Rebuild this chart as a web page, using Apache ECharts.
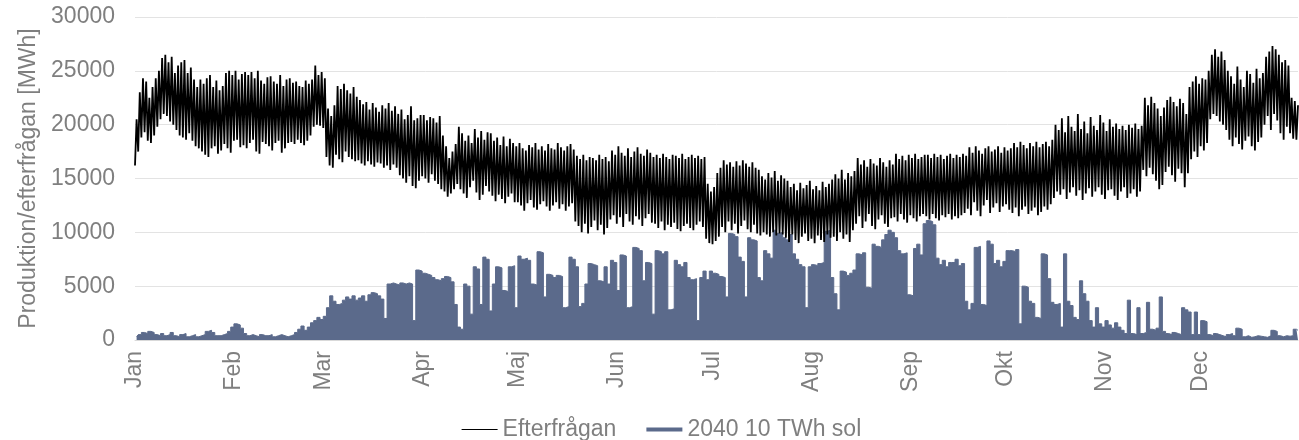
<!DOCTYPE html>
<html><head><meta charset="utf-8">
<script src="https://cdn.jsdelivr.net/npm/echarts@6/dist/echarts.min.js"></script>
<style>html,body{margin:0;padding:0;background:#fff}#c{width:1299px;height:440px}</style>
</head><body><div id="c"></div>
<script>
const monthLabels = ['Jan','Feb','Mar','Apr','Maj','Jun','Jul','Aug','Sep','Okt','Nov','Dec'];
const monthStartDay = [0,31,59,90,120,151,181,212,243,273,304,334];
const seriesNames = ['Efterfrågan','2040 10 TWh sol'];
const yAxisTitle = 'Produktion/efterfrågan [MWh]';

// Demand: daily night low and daytime high (MWh)
const demandLow = [
16200,17500,18800,19300,18500,18300,19000,
19800,20500,21000,20800,20300,20000,19500,
19000,18800,18600,19200,18500,18000,17800,
17500,17200,17000,17800,18000,17300,17600,
18200,17800,17400,18500,18600,17900,18100,
17800,18300,18600,17500,17300,18400,18200,
18000,17600,18300,18500,17400,17800,18300,
18400,18200,18600,18300,18100,18500,19000,
19800,20000,19900,19700,
17000,16200,16000,
17200,16800,16500,17500,17000,16800,16600,
16700,16400,16200,16600,16300,16100,16500,
16400,16000,16200,15800,16300,16000,
15300,15000,14600,15200,14300,14100,14800,
15200,15000,14600,15400,14800,14500,14000,
13800,13300,13600,14000,
14500,14000,13600,13200,14200,14800,13700,13000,13500,14300,
13800,13400,12900,13500,13100,12700,13300,13600,12800,
12800,12500,12000,12700,13000,12300,12100,12600,12900,12400,12000,12500,12800,12200,12600,12000,12400,12700,
11000,10600,10000,10800,9900,10500,11100,10200,10700,9800,10400,
11200,11600,10800,11400,10500,11700,11000,10700,11500,11200,10600,11300,11700,10900,
10800,10400,11000,10200,10700,10500,10900,10300,10100,10600,10800,10400,10200,10700,11000,10500,
9400,9000,8900,9200,9600,
10500,10000,11000,10200,10800,9900,10600,11100,10300,10000,10700,
9900,9700,10000,9800,9600,10000,9700,9900,9800,
9500,9100,9800,9300,9000,9600,9900,9200,9400,9000,9700,9300,9100,9800,9500,
9600,9200,10000,9400,9800,9100,10200,
10800,11500,10400,11000,11700,10600,10300,11200,11600,10800,10500,11300,
11400,11000,11700,11200,10900,11600,11300,11000,11500,11700,
11500,11200,11700,11300,11100,11600,11400,11700,11200,11500,11300,11600,11800,
12200,11600,12800,12000,11500,12500,13000,11800,12300,12700,11900,12400,12600,12100,
11800,12300,11500,12100,12400,11700,12000,12300,11600,11900,12400,12100,12600,
13200,13800,13500,14000,13100,13700,14200,13400,13900,13000,13600,14100,13300,13800,14200,13500,13100,13900,14000,
13400,13000,13800,14200,13200,13600,14000,13300,13800,
15800,15200,16000,15400,14800,14000,14400,15600,16100,15300,14700,15900,15500,14200,
15500,16800,17500,17000,18000,17600,18300,
20500,21000,20800,20300,20000,19500,
18600,18000,18800,18200,17700,18500,18900,18000,17600,18400,18800,
20000,20800,19500,21000,20400,19200,18600,19800,
19200,18700,18600
];
const demandHigh = [
20500,23000,24300,24000,22500,23500,24300,
25000,26200,26500,25800,26300,24800,25500,
25800,26000,24800,25300,24200,23500,24200,
23800,24300,24600,23500,24100,23200,23600,
24800,25000,24600,25000,24200,24700,24900,
24600,24900,24300,25000,24100,23800,24400,
24500,24000,23800,24600,23600,24200,24300,
23900,24000,23600,23500,24100,23800,24200,
25500,24600,24900,24300,
21500,20800,21800,
23600,23300,23800,23200,22900,23500,22600,
22300,21900,22100,21400,22000,21600,21200,
21800,21500,22000,21300,21700,21000,
21400,20500,20900,21700,20400,20600,20900,
20900,20400,20700,20600,20200,20800,19000,
18000,16900,17500,18200,
19800,19200,18500,19000,18300,19600,18800,19400,18600,19300,
19200,18500,18800,18100,18900,18000,18700,18300,18000,
18300,17800,17600,18100,17900,18300,17700,18000,17600,18200,17800,17700,18300,17900,17600,18000,18200,17700,
17100,16800,17200,16700,17000,16900,16700,17200,16800,17000,16600,
17600,17200,18000,17400,17100,17800,17000,17500,17900,17300,17100,17700,17400,17000,
17200,16900,17300,17000,16800,17200,17100,16900,17300,16800,17000,17200,16900,17100,16800,17000,
14500,13800,14200,15500,16000,
16700,16300,16500,16100,16600,16200,16700,16400,16100,16500,16000,
15800,15200,14900,15500,15100,15700,14800,15300,15000,
14800,14200,14500,13900,14600,14100,14400,14800,14000,14300,13900,14700,14200,14500,14900,
15400,15000,15800,14900,15500,15200,15700,
16900,16300,16700,16100,16800,16400,16200,16900,16500,16100,16700,16300,
17300,16800,17100,16700,17200,16900,17300,16800,17000,17200,
17200,16900,17300,17000,17200,16800,17100,17300,16900,17200,17000,17300,17100,
17900,17400,18000,17600,17300,17800,18000,17500,17700,18000,17400,17900,17600,17800,
18300,17900,18400,18100,17800,18300,18000,18400,17900,18200,18400,18000,18600,
20000,19500,20600,19300,20800,19800,19400,21000,19600,20300,19200,20700,19900,19500,20900,20200,19400,20500,19800,
20100,19600,19900,19500,20000,19700,20100,19600,19900,
22500,21800,22600,22000,21500,20800,21600,22300,22600,22100,21700,22400,22000,21000,
23500,24000,24500,23800,24300,24200,25000,
26500,27000,26300,26800,26000,25000,
24500,23800,25400,24200,23500,25000,24700,23900,25200,24300,24800,
26300,26800,27300,27000,26500,25800,26000,25500,
22500,22200,21800
];
// Solar: daily peak production (MWh)
const solarPeak = [
300,500,700,600,800,700,500,400,
600,400,500,700,400,300,500,600,300,400,500,300,400,500,
800,900,700,400,
400,500,600,800,
1200,1500,1400,1100,600,
400,500,400,300,500,400,400,500,300,400,500,400,300,400,500,
700,1000,1300,900,1200,1600,
1800,2100,1900,2200,3000,
4100,3600,3300,3400,3700,
4000,3800,4100,3700,3900,4100,3600,
4200,4400,4300,4100,3800,2000,
5200,5300,5200,5100,5300,5200,5300,5200,
1800,
6500,6400,6200,6100,6000,
5800,5600,5500,5700,5900,
5800,5400,3300,
1200,1000,
5200,5000,
2400,
6800,6600,
3300,
7700,7500,
2700,
5200,
6800,6700,
4600,4500,
6800,6900,
3000,
7800,7500,7600,7400,
5200,5100,
8200,8100,
4000,
6100,6000,5800,6000,5900,
3000,3100,
7700,7500,6800,
3100,3400,
5200,
7100,7000,6900,
5500,5400,
6800,
5200,
7400,7200,
4600,
7900,7800,
3000,3100,
8600,8500,8300,
5500,
7200,7100,
2400,
8300,8200,8000,8200,
2800,2900,
7400,7000,6800,7200,
5800,5600,5700,
1800,
5800,6400,5600,
6400,6200,6100,5900,5800,
4000,
9900,9800,9600,
7700,7300,
4000,
9500,9300,9200,
5800,5500,
8300,8000,7600,
10200,9900,10000,9500,9300,9800,
8000,7500,
7000,6800,
3000,
6800,7000,6900,7100,7200,
10100,10200,
5800,4300,
2800,
6400,6300,6000,6200,6500,
8000,7900,8100,
4900,4800,
8900,8700,8600,
9300,9800,10200,10000,9500,
8300,8000,8100,
4200,4100,
8500,8900,7900,
10800,11100,11000,10700,
7600,7000,7400,6800,7200,
7200,7500,6900,7100,
3600,2800,3400,
8600,8700,
3300,3200,
9200,8900,
7100,7400,6800,
7300,8300,8300,8200,8400,
1500,
5000,4900,
3600,3400,
2100,2000,
8000,7900,
5700,
3500,3300,3400,
1200,
8000,
3600,3200,
2100,1900,
5500,4300,3600,
1800,1200,
3000,
1500,1200,1800,1400,1100,
1600,1200,900,600,
3700,
600,500,
3000,
600,
700,
3500,
1000,900,1100,
4000,
800,600,500,700,600,500,
3000,2800,2600,
500,
2600,
500,
1800,1700,
500,400,600,500,400,300,500,600,400,
1100,1000,
300,400,250,300,400,350,300,250,400,
900,800,
400,300,400,350,400,
1000,900
];

// Half-day categories: even = night, odd = midday
const nDays = demandLow.length;
const categories = [];
const labelAt = {};
monthStartDay.forEach((d, m) => { labelAt[2 * d] = monthLabels[m]; });
for (let i = 0; i < nDays * 2; i++) categories.push(String(i));
const demandData = [];
for (let i = 0; i < nDays; i++) { demandData.push(demandLow[i]); demandData.push(demandHigh[i]); }
const solarData = solarPeak.map((v, i) => [2 * i + 1, v]);

const FONT = 'Liberation Sans, Arial, sans-serif';
const GRAY = '#7f7f7f';
const SOL = '#5b6a8b';
const chart = echarts.init(document.getElementById('c'), null, {renderer: 'canvas'});
chart.setOption({
  animation: false,
  grid: {left: 135, right: 1, top: 17, bottom: 100},
  legend: {
    left: 456, top: 413, itemWidth: 36, itemHeight: 14, itemGap: 28,
    textStyle: {fontFamily: FONT, fontSize: 23, color: GRAY},
    data: [
      {name: seriesNames[0], lineStyle: {width: 1.2, color: '#000'}, itemStyle: {opacity: 0}},
      {name: seriesNames[1], lineStyle: {width: 4, color: SOL}, itemStyle: {opacity: 0}}
    ]
  },
  xAxis: {
    type: 'category', data: categories, boundaryGap: false,
    axisLine: {show: true, lineStyle: {color: '#d9d9d9'}},
    axisTick: {show: false},
    axisLabel: {
      interval: (idx) => labelAt[idx] !== undefined,
      formatter: (v, idx) => labelAt[idx] || '',
      rotate: 90, margin: 11, fontFamily: FONT, fontSize: 23, color: GRAY
    },
    splitLine: {show: false}
  },
  yAxis: {
    type: 'value', min: 0, max: 30000, interval: 5000,
    name: yAxisTitle, nameLocation: 'middle', nameGap: 86,
    nameTextStyle: {fontFamily: FONT, fontSize: 23, color: GRAY},
    axisLine: {show: false}, axisTick: {show: false},
    axisLabel: {fontFamily: FONT, fontSize: 23, color: GRAY, margin: 20, formatter: (v) => String(v)},
    splitLine: {lineStyle: {color: '#e3e3e3', width: 1}}
  },
  series: [
    {
      name: seriesNames[1], type: 'line', data: solarData, showSymbol: false, symbol: 'none',
      step: 'middle',
      lineStyle: {width: 1, color: SOL}, itemStyle: {color: SOL},
      areaStyle: {color: SOL, opacity: 1}, z: 2
    },
    {
      name: seriesNames[0], type: 'line', data: demandData, showSymbol: false, symbol: 'none',
      lineStyle: {width: 1.8, color: '#000'}, itemStyle: {color: '#000'}, z: 3
    }
  ]
});
</script></body></html>
